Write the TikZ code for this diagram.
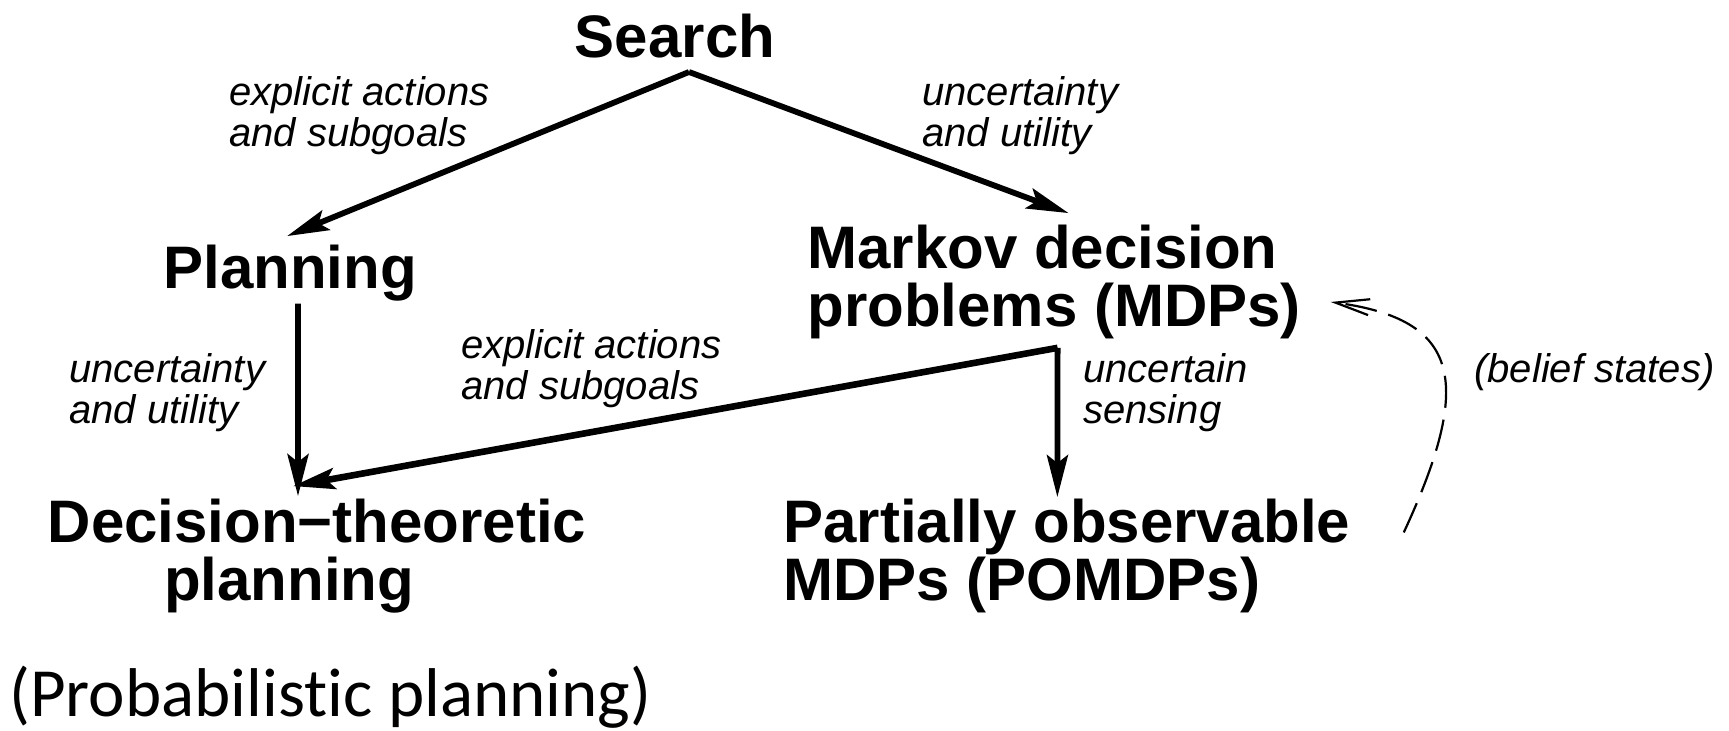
\documentclass[tikz,border=0pt]{standalone}
\usepackage{fontspec}
\setmainfont{Liberation Sans}
\newfontfamily\calibfont[Ligatures=NoCommon]{Carlito}
\usetikzlibrary{arrows.meta,calc}

\tikzset{
  title/.style={font=\bfseries\fontsize{30}{29}\selectfont, inner sep=0pt},
  lab/.style={font=\itshape\fontsize{20}{20.5}\selectfont, inner sep=0pt, align=left, anchor=base west},
  note/.style={font=\calibfont\fontsize{34.5}{40}\selectfont, inner sep=0pt, anchor=base west},
  link/.style={line width=2.9pt, -{Stealth[length=21pt,width=10.5pt,inset=4pt]}},
  belief/.style={line width=1.1pt, dash pattern=on 16pt off 6pt,
    -{Straight Barb[length=17pt,width=8pt]}}
}

\begin{document}
\begin{tikzpicture}[x=0.5pt,y=-0.5pt]
  \fill[white] (0,0) rectangle (1729,731);
  \useasboundingbox (0,0) rectangle (1729,731);

  % concept nodes (multi-line nodes sit on the baseline of their last line)
  \node[title, anchor=base] (search) at (675,58) {Search};
  \node[title, anchor=base west] (plan) at (163,289) {Planning};
  \node[title, anchor=base west, align=left] (mdp) at (807,327)
    {Markov decision\\problems (MDPs)};
  \node[title, anchor=base, align=center] (dtp) at (317,601)
    {Decision−theoretic\\planning\hspace*{28pt}};
  \node[title, anchor=base west, align=left] (pomdp) at (783,601)
    {Partially observable\\MDPs (POMDPs)};
  \node[note] (prob) at (9,716) {(Probabilistic planning)};

  % edge labels
  \node[lab] (l1) at (229,147) {explicit actions\\and subgoals};
  \node[lab] (l2) at (922,147) {uncertainty\\and utility};
  \node[lab] (l3) at (69,424) {uncertainty\\and utility};
  \node[lab] (l4) at (461,400) {explicit actions\\and subgoals};
  \node[lab] (l5) at (1083,424) {uncertain\\sensing};
  \node[lab] (l6) at (1474,383) {(belief states)};

  % connectors
  \draw[link] ($(search.south)+(14,13)$) -- ($(plan.north)+(-3,-9)$);
  \draw[link] ($(search.south)+(14,13)$) -- ($(mdp.north)+(14.5,-12)$);
  \draw[link] ($(plan.south)+(8,1.5)$) -- ($(dtp.north)+(-19,-3)$);
  \draw[link, line width=3.3pt] ($(mdp.south)+(3.5,8)$) -- ($(dtp.north)+(-24,-13)$);
  \draw[link] ($(mdp.south)+(3.5,8)$) -- ($(pomdp.north)+(-9.5,-2)$);
  \draw[belief] ($(pomdp.east)+(53,-24)$)
    .. controls +(70,-151) and +(130,17.5) .. ($(mdp.east)+(29.5,19.5)$);
\end{tikzpicture}
\end{document}
